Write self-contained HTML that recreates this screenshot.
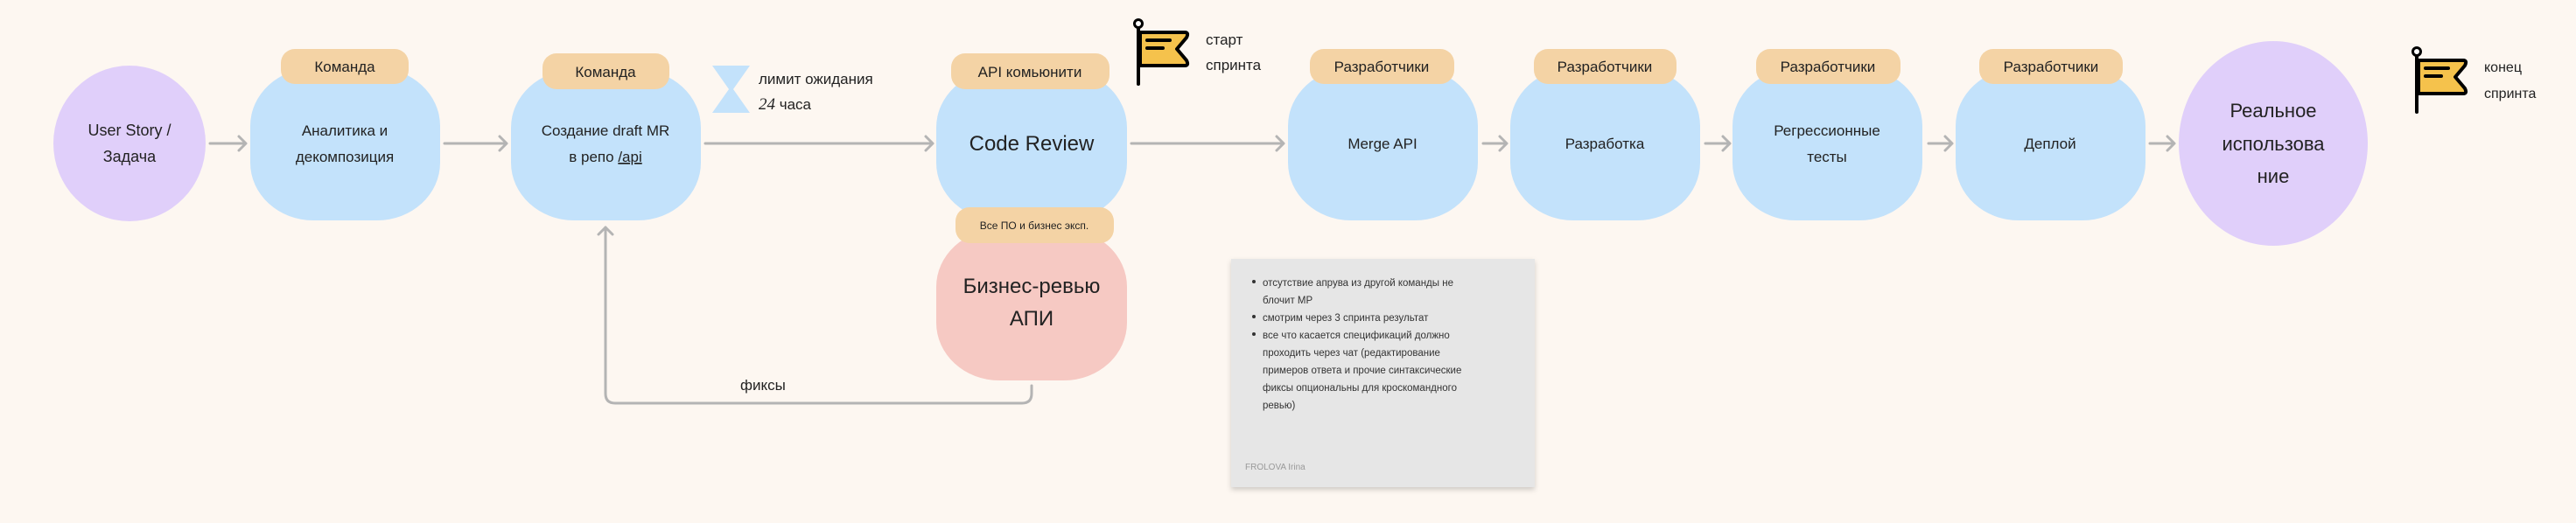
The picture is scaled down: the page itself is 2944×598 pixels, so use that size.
<!DOCTYPE html>
<html><head><meta charset="utf-8"><style>
html,body{margin:0;padding:0;background:#fdf7f1;}
svg{display:block;font-family:"Liberation Sans","Noto Sans CJK SC",sans-serif;}
</style></head><body>
<svg width="2944" height="598" viewBox="0 0 2944 598" xmlns="http://www.w3.org/2000/svg">
<defs>
<g id="flag">
<line x1="0" y1="4" x2="0" y2="73" stroke="#000" stroke-width="4" stroke-linecap="round"/>
<circle cx="0" cy="4" r="4.5" fill="#fff" stroke="#000" stroke-width="3"/>
<path d="M2,14 H53 Q58,14 55,20 L44,33 L55,46 Q58,52 53,52 H2 Z" fill="#f5c24c" stroke="#000" stroke-width="4" stroke-linejoin="round"/>
<line x1="10" y1="23" x2="36" y2="23" stroke="#000" stroke-width="4" stroke-linecap="round"/>
<line x1="10" y1="32" x2="28" y2="32" stroke="#000" stroke-width="4" stroke-linecap="round"/>
</g>
<filter id="sh" x="-10%" y="-10%" width="120%" height="130%"><feDropShadow dx="0" dy="3" stdDeviation="3" flood-color="#000" flood-opacity="0.18"/></filter>
</defs>
<rect width="2944" height="598" fill="#fdf7f1"/>

<g stroke="#b4b4b4" stroke-width="3" fill="none" stroke-linecap="round" stroke-linejoin="round">
<line x1="240" y1="164" x2="280" y2="164"/><polyline points="273,156 281,164 273,172"/>
<line x1="508" y1="164" x2="578" y2="164"/><polyline points="571,156 579,164 571,172"/>
<line x1="806" y1="164" x2="1065" y2="164"/><polyline points="1058,156 1066,164 1058,172"/>
<line x1="1293" y1="164" x2="1466" y2="164"/><polyline points="1459,156 1467,164 1459,172"/>
<line x1="1695" y1="164" x2="1721" y2="164"/><polyline points="1714,156 1722,164 1714,172"/>
<line x1="1949" y1="164" x2="1976" y2="164"/><polyline points="1969,156 1977,164 1969,172"/>
<line x1="2204" y1="164" x2="2230" y2="164"/><polyline points="2223,156 2231,164 2223,172"/>
<line x1="2457" y1="164" x2="2484" y2="164"/><polyline points="2477,156 2485,164 2477,172"/>
<path d="M1179,441 V450 Q1179,461 1168,461 H703 Q692,461 692,450 V260"/>
<polyline points="684,268 692,260 700,268"/>
</g>

<ellipse cx="148" cy="164" rx="87" ry="89" fill="#e0cffa"/>
<g font-size="18" fill="#222" text-anchor="middle">
<text x="148" y="155">User Story /</text>
<text x="148" y="185">Задача</text>
</g>

<g fill="#c3e2fb">
<rect x="286" y="78" width="217" height="174" rx="72" ry="66"/>
<rect x="584" y="80" width="217" height="172" rx="72" ry="66"/>
<rect x="1070" y="80" width="218" height="172" rx="72" ry="66"/>
<rect x="1472" y="78" width="217" height="174" rx="72" ry="66"/>
<rect x="1726" y="78" width="217" height="174" rx="72" ry="66"/>
<rect x="1980" y="78" width="217" height="174" rx="72" ry="66"/>
<rect x="2235" y="78" width="217" height="174" rx="72" ry="66"/>
</g>
<rect x="1070" y="262" width="218" height="173" rx="72" ry="66" fill="#f6c9c3"/>
<ellipse cx="2598" cy="164" rx="108" ry="117" fill="#e0cffa"/>

<g fill="#f4d3a5">
<rect x="321" y="56" width="146" height="40" rx="16"/>
<rect x="620" y="61" width="145" height="41" rx="16"/>
<rect x="1087" y="61" width="181" height="41" rx="16"/>
<rect x="1092" y="237" width="181" height="41" rx="16"/>
<rect x="1497" y="56" width="165" height="40" rx="16"/>
<rect x="1753" y="56" width="163" height="40" rx="16"/>
<rect x="2007" y="56" width="165" height="40" rx="16"/>
<rect x="2262" y="56" width="164" height="40" rx="16"/>
</g>
<g font-size="17" fill="#222" text-anchor="middle">
<text x="394" y="82">Команда</text>
<text x="692" y="88">Команда</text>
<text x="1177" y="88">API комьюнити</text>
<text x="1182" y="262" font-size="12">Все ПО и бизнес эксп.</text>
<text x="1579" y="82">Разработчики</text>
<text x="1834" y="82">Разработчики</text>
<text x="2089" y="82">Разработчики</text>
<text x="2344" y="82">Разработчики</text>

<text x="394" y="155">Аналитика и</text>
<text x="394" y="185">декомпозиция</text>
<text x="692" y="155">Создание draft MR</text>
<text x="692" y="185">в репо <tspan text-decoration="underline">/api</tspan></text>
<text x="1179" y="172" font-size="24">Code Review</text>
<text x="1179" y="335" font-size="24">Бизнес-ревью</text>
<text x="1179" y="372" font-size="24">АПИ</text>
<text x="1580" y="170">Merge API</text>
<text x="1834" y="170">Разработка</text>
<text x="2088" y="155">Регрессионные</text>
<text x="2088" y="185">тесты</text>
<text x="2343" y="170">Деплой</text>
<text x="2598" y="134" font-size="22">Реальное</text>
<text x="2598" y="172" font-size="22">использова</text>
<text x="2598" y="209" font-size="22">ние</text>
</g>

<path d="M814,75 H857 L838,102 L857,129 H814 L833,102 Z" fill="#c3e2fb"/>
<g font-size="17" fill="#222">
<text x="867" y="96">лимит  ожидания</text>
<text x="867" y="125"><tspan font-style="italic" font-family="Liberation Serif, serif" font-size="19">24</tspan> часа</text>
<text x="846" y="446" font-size="17">фиксы</text>
<text x="1378" y="51">старт</text>
<text x="1378" y="80">спринта</text>
<text x="2839" y="82" font-size="16">конец</text>
<text x="2839" y="112" font-size="16">спринта</text>
</g>

<use href="#flag" x="1301" y="23"/>
<use href="#flag" x="2762" y="55"/>

<rect x="1407" y="296" width="347" height="261" fill="#e6e6e6" filter="url(#sh)"/>
<g font-size="11.5" fill="#333">
<circle cx="1433" cy="322" r="2" fill="#333"/>
<circle cx="1433" cy="362" r="2" fill="#333"/>
<circle cx="1433" cy="382" r="2" fill="#333"/>
<text x="1443" y="327">отсутствие апрува из другой команды не</text>
<text x="1443" y="347">блочит МР</text>
<text x="1443" y="367">смотрим через 3 спринта результат</text>
<text x="1443" y="387">все что касается спецификаций должно</text>
<text x="1443" y="407">проходить через чат (редактирование</text>
<text x="1443" y="427">примеров ответа и прочие синтаксические</text>
<text x="1443" y="447">фиксы опциональны для кроскомандного</text>
<text x="1443" y="467">ревью)</text>
<text x="1423" y="537" font-size="10" fill="#999">FROLOVA Irina</text>
</g>
</svg>
</body></html>
